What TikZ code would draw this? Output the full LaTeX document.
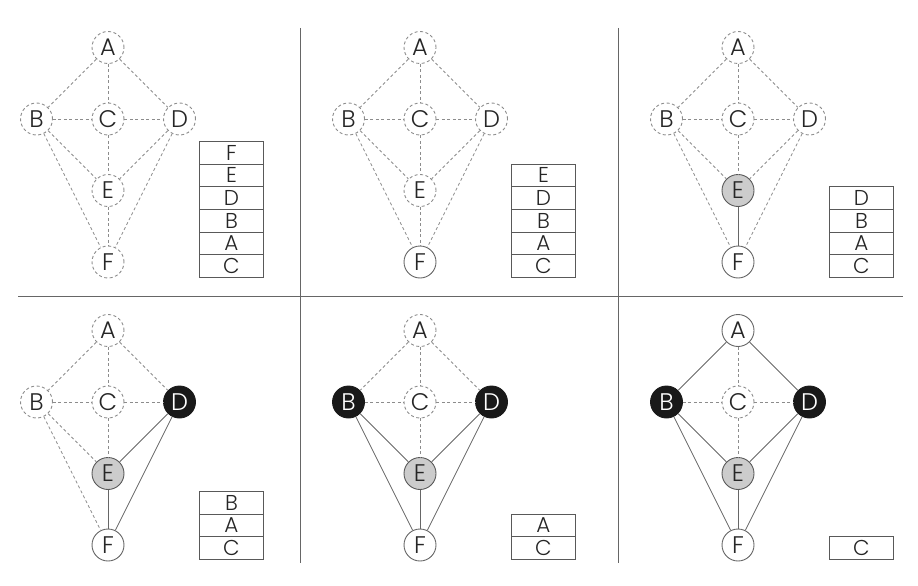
\documentclass[tikz,border=0pt]{standalone}
\usepackage{fontspec}
\setmainfont{Poppins}[UprightFont=* Light]
\begin{document}
\begin{tikzpicture}[x=1pt,y=-1pt,
  vtx/.style={circle,minimum size=32pt,inner sep=0pt,font=\fontsize{24}{24}\selectfont,text=black!85,line width=0.9pt},
  vdash/.style={vtx,draw=black!45,dash pattern=on 3pt off 2.5pt},
  vwhite/.style={vtx,draw=black!60,fill=white},
  vgray/.style={vtx,draw=black!65,fill=black!20},
  vblack/.style={vtx,draw=black!90,fill=black!90,text=white},
  edash/.style={draw=black!45,line width=0.8pt,dash pattern=on 3pt off 2.5pt},
  esolid/.style={draw=black!60,line width=0.8pt},
  cell/.style={draw=black!65,line width=0.9pt,minimum width=64pt,minimum height=22.7pt,inner sep=0pt,anchor=south west,font=\fontsize{21.5}{21.5}\selectfont,text=black!85},
  divider/.style={draw=black!60,line width=1pt}]
\useasboundingbox (0,0) rectangle (918,586);

\newcommand\gnodes[9]{%
  \begin{scope}[shift={(#2,#3)}]
    \node[#4] (#1A) at (0,0) {A};
    \node[#5] (#1B) at (-71.5,71.5) {B};
    \node[#6] (#1C) at (0,71.5) {C};
    \node[#7] (#1D) at (71.5,71.5) {D};
    \node[#8] (#1E) at (0,143) {E};
    \node[#9] (#1F) at (0,214.5) {F};
  \end{scope}}
\newcommand\gedges[3]{%
  \foreach \u/\v in {#2} \draw[edash] (#1\u) -- (#1\v);
  \foreach \u/\v in {#3} \draw[esolid] (#1\u) -- (#1\v);}

% dividers
\coordinate (hl) at (18,296);
\coordinate (hr) at (903,296);
\coordinate (v1t) at (300,28);
\coordinate (v1b) at (300,563);
\coordinate (v2t) at (618,28);
\coordinate (v2b) at (618,563);
\draw[divider] (hl) -- (hr);
\draw[divider] (v1t) -- (v1b);
\draw[divider] (v2t) -- (v2b);

% panel 1
\gnodes{p}{108}{47.5}{vdash}{vdash}{vdash}{vdash}{vdash}{vdash}
\gedges{p}{A/B,A/C,A/D,B/C,C/D,B/E,C/E,D/E,B/F,D/F,E/F}{}
% panel 2
\gnodes{q}{420}{47.5}{vdash}{vdash}{vdash}{vdash}{vdash}{vwhite}
\gedges{q}{A/B,A/C,A/D,B/C,C/D,B/E,C/E,D/E,B/F,D/F,E/F}{}
% panel 3
\gnodes{r}{738}{47.5}{vdash}{vdash}{vdash}{vdash}{vgray}{vwhite}
\gedges{r}{A/B,A/C,A/D,B/C,C/D,B/E,C/E,D/E,B/F,D/F}{E/F}
% panel 4
\gnodes{s}{108}{330.5}{vdash}{vdash}{vdash}{vblack}{vgray}{vwhite}
\gedges{s}{A/B,A/C,A/D,B/C,C/D,B/E,C/E,B/F}{D/E,D/F,E/F}
% panel 5
\gnodes{t}{420}{330.5}{vdash}{vblack}{vdash}{vblack}{vgray}{vwhite}
\gedges{t}{A/B,A/C,A/D,B/C,C/D,C/E}{B/E,B/F,D/E,D/F,E/F}
% panel 6
\gnodes{u}{738}{330.5}{vwhite}{vblack}{vdash}{vblack}{vgray}{vwhite}
\gedges{u}{A/C,B/C,C/D,C/E}{A/B,A/D,B/E,B/F,D/E,D/F,E/F}

% stacks
\newcommand\stackcell[4]{\node[cell] (#1) at (#2,#3) {#4};}
\stackcell{p1}{199}{278}{C}
\stackcell{p2}{199}{255.3}{A}
\stackcell{p3}{199}{232.6}{B}
\stackcell{p4}{199}{209.9}{D}
\stackcell{p5}{199}{187.2}{E}
\stackcell{p6}{199}{164.5}{F}

\stackcell{q1}{511}{278}{C}
\stackcell{q2}{511}{255.3}{A}
\stackcell{q3}{511}{232.6}{B}
\stackcell{q4}{511}{209.9}{D}
\stackcell{q5}{511}{187.2}{E}

\stackcell{r1}{829}{278}{C}
\stackcell{r2}{829}{255.3}{A}
\stackcell{r3}{829}{232.6}{B}
\stackcell{r4}{829}{209.9}{D}

\stackcell{s1}{199}{560}{C}
\stackcell{s2}{199}{537.3}{A}
\stackcell{s3}{199}{514.6}{B}

\stackcell{t1}{511}{560}{C}
\stackcell{t2}{511}{537.3}{A}

\stackcell{u1}{829}{560}{C}
\end{tikzpicture}
\end{document}
